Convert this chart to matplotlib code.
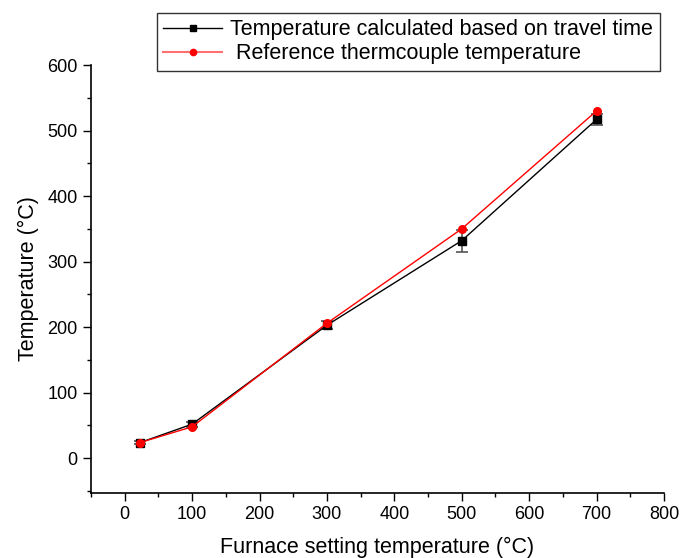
import matplotlib.pyplot as plt
import numpy as np
from matplotlib.ticker import MultipleLocator

plt.rcParams['font.family'] = ['Liberation Sans', 'DejaVu Sans']

furnace = [23, 100, 300, 500, 700]
calc_temp = [24, 52, 203, 332, 517]
calc_err = [2, 4, 6, 17, 9]
ref_temp = [24, 48, 206, 350, 530]

fig = plt.figure(figsize=(6.81, 5.58), dpi=100)
ax = fig.add_axes([0.1336, 0.1165, 0.975 - 0.1336, 0.8835 - 0.1165])

calc = ax.errorbar(furnace, calc_temp, yerr=calc_err, color='black', ecolor='#555555',
                   elinewidth=1.2, capsize=4, capthick=1.2, marker='s', markersize=5.5,
                   linewidth=1, zorder=2)
ref, = ax.plot(furnace, ref_temp, color='red', marker='o', markersize=5.5, linewidth=1,
               zorder=3)

ax.set_xlim(-50, 800)
ax.set_ylim(-53, 600)
ax.xaxis.set_major_locator(MultipleLocator(100))
ax.xaxis.set_minor_locator(MultipleLocator(50))
ax.yaxis.set_major_locator(MultipleLocator(100))
ax.yaxis.set_minor_locator(MultipleLocator(50))
ax.tick_params(which='major', direction='out', length=6, width=1, labelsize=13)
ax.tick_params(which='minor', direction='out', length=3, width=1)
for s in ['top', 'right']:
    ax.spines[s].set_visible(False)
for s in ['left', 'bottom']:
    ax.spines[s].set_linewidth(1.2)

ax.set_xlabel('Furnace setting temperature (°C)', fontsize=15.5, labelpad=10)
ax.set_ylabel('Temperature (°C)', fontsize=15.5, labelpad=6)

leg_calc, = ax.plot([], [], color='black', marker='s', markersize=4.5, linewidth=1)
leg_ref, = ax.plot([], [], color='#ff7070', marker='o', markersize=4.5, linewidth=1.5,
                   markerfacecolor='red', markeredgecolor='red')
leg = fig.legend([leg_calc, leg_ref],
                 ['Temperature calculated based on travel time', ' Reference thermcouple temperature'],
                 loc='upper left', bbox_to_anchor=(157 / 681, 1 - 13 / 558),
                 fontsize=15.5, frameon=True, fancybox=False, edgecolor='black',
                 handlelength=2.7, borderpad=0.3, labelspacing=0.12, handletextpad=0.4,
                 borderaxespad=0)
leg.get_frame().set_linewidth(1)

fig.savefig('out.png', dpi=100)
